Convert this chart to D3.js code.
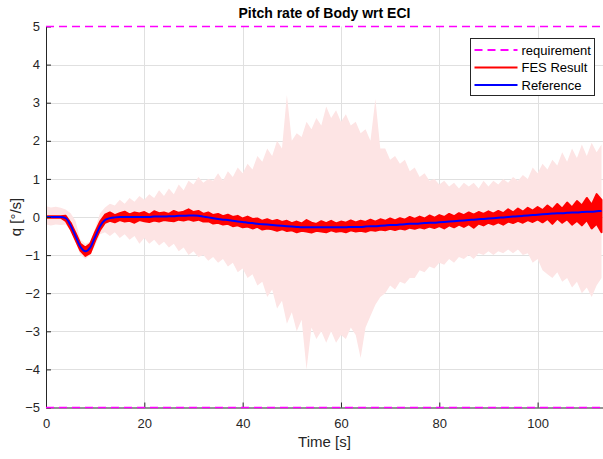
<!DOCTYPE html>
<html>
<head>
<meta charset="utf-8">
<script src="https://cdn.jsdelivr.net/npm/d3@7"></script>
<style>
  body { margin: 0; background: #fff; }
  svg { display: block; font-family: "Liberation Sans", Arial, sans-serif; }
</style>
</head>
<body>
<svg width="603" height="459"></svg>
<script>
// sample instants, 1 s apart, t = 0 .. 113
const dt = 1;

// reference trajectory (blue)
const refValues = [
  0, 0, 0, 0, -0.03, -0.22, -0.5, -0.78, -0.9, -0.8,
  -0.52, -0.24, -0.08, -0.03, -0.01, 0, 0, 0, 0, 0,
  0, 0, 0.01, 0.01, 0.01, 0.02, 0.02, 0.03, 0.03, 0.04,
  0.04, 0.03, 0.01, -0.01, -0.03, -0.05, -0.07, -0.08, -0.1, -0.12,
  -0.13, -0.15, -0.16, -0.18, -0.19, -0.2, -0.21, -0.22, -0.23, -0.24,
  -0.25, -0.26, -0.27, -0.27, -0.27, -0.27, -0.27, -0.27, -0.27, -0.27,
  -0.27, -0.27, -0.26, -0.26, -0.26, -0.25, -0.24, -0.24, -0.23, -0.22,
  -0.21, -0.21, -0.2, -0.19, -0.18, -0.18, -0.17, -0.16, -0.15, -0.15,
  -0.14, -0.13, -0.12, -0.11, -0.1, -0.09, -0.08, -0.07, -0.06, -0.05,
  -0.04, -0.03, -0.02, -0.01, 0, 0.01, 0.02, 0.03, 0.04, 0.05,
  0.06, 0.07, 0.08, 0.09, 0.1, 0.1, 0.11, 0.12, 0.12, 0.13,
  0.14, 0.14, 0.15, 0.16
];

// FES result band (red), upper and lower edges
const fesHi = [
  0.02, 0.02, 0.02, 0.02, 0.03, -0.15, -0.42, -0.7, -0.8, -0.7,
  -0.4, -0.12, 0.06, 0.12, 0.05, 0.1, 0.14, 0.07, 0.12, 0.09,
  0.13, 0.06, 0.15, 0.1, 0.12, 0.08, 0.16, 0.11, 0.14, 0.2,
  0.13, 0.16, 0.08, 0.12, 0.05, 0.08, 0.02, 0.06, 0.0, 0.03,
  -0.04, 0.01, -0.05, -0.04, -0.1, -0.06, -0.11, -0.08, -0.13, -0.1,
  -0.16, -0.12, -0.17, -0.08, -0.15, -0.18, -0.11, -0.16, -0.1, -0.17,
  -0.12, -0.15, -0.09, -0.14, -0.1, -0.13, -0.07, -0.12, -0.06, -0.1,
  -0.04, -0.09, -0.03, -0.07, 0.0, -0.05, 0.01, -0.04, 0.04, -0.02,
  0.05, 0.0, 0.08, 0.02, 0.1, 0.05, 0.12, 0.06, 0.13, 0.08,
  0.15, 0.09, 0.16, 0.1, 0.2, 0.12, 0.22, 0.14, 0.24, 0.17,
  0.26, 0.18, 0.3, 0.2, 0.34, 0.22, 0.38, 0.25, 0.42, 0.3,
  0.5, 0.32, 0.6, 0.45
];
const fesLo = [
  -0.02, -0.02, -0.02, -0.02, -0.1, -0.32, -0.6, -0.88, -1.02, -0.95,
  -0.62, -0.34, -0.15, -0.1, -0.14, -0.08, -0.12, -0.1, -0.15, -0.08,
  -0.11, -0.13, -0.09, -0.12, -0.08, -0.1, -0.11, -0.07, -0.09, -0.06,
  -0.1, -0.07, -0.12, -0.11, -0.17, -0.15, -0.2, -0.18, -0.24, -0.22,
  -0.27, -0.25, -0.3, -0.26, -0.33, -0.3, -0.32, -0.36, -0.32, -0.37,
  -0.35, -0.4, -0.36, -0.38, -0.41, -0.36, -0.38, -0.4, -0.35, -0.39,
  -0.37, -0.4, -0.35, -0.38, -0.36, -0.39, -0.34, -0.36, -0.33, -0.35,
  -0.31, -0.34, -0.3, -0.33, -0.28, -0.31, -0.27, -0.3, -0.25, -0.29,
  -0.24, -0.3, -0.22, -0.27, -0.2, -0.26, -0.19, -0.28, -0.17, -0.22,
  -0.15, -0.2, -0.14, -0.2, -0.12, -0.16, -0.1, -0.15, -0.08, -0.13,
  -0.06, -0.14, -0.05, -0.18, -0.04, -0.15, -0.06, -0.2, -0.1, -0.22,
  -0.08, -0.3, -0.18, -0.4
];

// dispersion envelope (light pink)
const dispHi = [
  0.28, 0.25, 0.27, 0.24, 0.2, 0.1, -0.1, -0.6, -0.7, -0.65,
  -0.3, 0.1, 0.25, 0.35, 0.3, 0.45, 0.35, 0.5, 0.4, 0.55,
  0.45, 0.6, 0.5, 0.7, 0.55, 0.75, 0.6, 0.85, 0.7, 0.95,
  0.85, 1.05, 0.9, 1.0, 0.95, 1.15, 0.95, 1.2, 1.05, 1.3,
  1.15, 1.4, 1.25, 1.6, 1.45, 1.8, 1.6, 2.0, 1.8, 3.2,
  2.0, 2.2, 2.1, 2.5, 2.3, 2.6, 2.4, 2.9, 2.6, 2.8,
  2.5, 2.7, 2.4, 2.5, 2.2, 2.3, 2.0, 3.1, 1.8, 1.8,
  1.5, 1.6, 1.4, 1.5, 1.2, 1.3, 1.05, 1.15, 0.95, 1.0,
  0.85, 0.95, 0.8, 0.9, 0.75, 0.9, 0.8, 0.9, 0.75, 0.95,
  0.8, 0.95, 0.85, 1.0, 0.9, 1.05, 0.95, 1.1, 1.0, 1.3,
  1.15, 1.4, 1.25, 1.5, 1.35, 1.7, 1.45, 1.8, 1.55, 1.9,
  1.6, 1.95, 1.7, 1.9
];
const dispLo = [
  -0.2, -0.22, -0.2, -0.21, -0.2, -0.35, -0.65, -1.0, -1.1, -1.0,
  -0.75, -0.45, -0.4, -0.5, -0.4, -0.55, -0.45, -0.6, -0.5, -0.7,
  -0.55, -0.7, -0.6, -0.75, -0.65, -0.8, -0.7, -0.9, -0.8, -1.0,
  -0.9, -1.05, -1.0, -1.15, -1.05, -1.2, -1.1, -1.3, -1.2, -1.45,
  -1.35, -1.6, -1.5, -1.8, -1.7, -2.1, -1.9, -2.4, -2.2, -2.8,
  -2.5, -3.0, -2.7, -4.0, -2.9, -3.2, -3.0, -3.3, -3.0, -3.3,
  -3.1, -3.2, -2.9, -3.1, -3.7, -2.9, -2.6, -2.3, -2.1, -2.0,
  -1.8, -1.9, -1.7, -1.75, -1.6, -1.6, -1.4, -1.45, -1.3, -1.35,
  -1.2, -1.25, -1.1, -1.2, -1.05, -1.1, -1.0, -1.1, -0.95, -1.0,
  -0.9, -1.0, -0.9, -0.95, -0.85, -0.95, -0.85, -1.0, -0.95, -1.2,
  -1.1, -1.4, -1.5, -1.6, -1.45, -1.7, -1.6, -1.85, -1.7, -2.0,
  -1.85, -2.1, -1.8, -1.6
];

const requirement = [5, -5];
const xTicks = [0, 20, 40, 60, 80, 100];
const yTicks = [-5, -4, -3, -2, -1, 0, 1, 2, 3, 4, 5];
const legendItems = ['requirement', 'FES Result', 'Reference'];

const svg = d3.select('svg');
const plotL = 46, plotR = 603, plotT = 26.5, plotB = 407.5;

const x = d3.scaleLinear().domain([0, 113.3]).range([plotL, plotR]);
const y = d3.scaleLinear().domain([-5, 5]).range([plotB, plotT]);

const rows = refValues.map((r, i) => ({
  t: i * dt, ref: r, hi: fesHi[i], lo: fesLo[i], dhi: dispHi[i], dlo: dispLo[i]
}));

svg.append('defs').append('clipPath').attr('id', 'clip')
  .append('rect')
  .attr('x', plotL).attr('y', plotT - 2)
  .attr('width', plotR - plotL).attr('height', plotB - plotT + 4);

// grid
const grid = svg.append('g').attr('stroke', '#e0e0e0').attr('stroke-width', 1);
grid.selectAll('.gx').data(xTicks.slice(1)).enter().append('line')
  .attr('x1', d => Math.round(x(d)) + 0.5).attr('x2', d => Math.round(x(d)) + 0.5)
  .attr('y1', plotT).attr('y2', plotB);
grid.selectAll('.gy').data(yTicks.slice(1, -1)).enter().append('line')
  .attr('x1', plotL).attr('x2', plotR)
  .attr('y1', d => Math.round(y(d)) + 0.5).attr('y2', d => Math.round(y(d)) + 0.5);

const plot = svg.append('g').attr('clip-path', 'url(#clip)');

plot.append('path')
  .datum(rows)
  .attr('fill', '#fde4e4')
  .attr('d', d3.area().x(d => x(d.t)).y0(d => y(d.dlo)).y1(d => y(d.dhi)));

plot.append('path')
  .datum(rows)
  .attr('fill', '#ff0000')
  .attr('stroke', '#ff0000')
  .attr('stroke-width', 2)
  .attr('stroke-linejoin', 'round')
  .attr('d', d3.area().x(d => x(d.t)).y0(d => y(d.lo)).y1(d => y(d.hi)));

plot.append('path')
  .datum(rows)
  .attr('fill', 'none')
  .attr('stroke', '#0000ff')
  .attr('stroke-width', 2)
  .attr('d', d3.line().curve(d3.curveMonotoneX).x(d => x(d.t)).y(d => y(d.ref)));

// axes
const axisColor = '#262626';
const xAxis = svg.append('g')
  .attr('transform', `translate(0,${plotB})`)
  .call(d3.axisBottom(x).tickValues(xTicks).tickSizeInner(-5).tickSizeOuter(0).tickPadding(11));
const yAxis = svg.append('g')
  .attr('transform', `translate(${plotL},0)`)
  .call(d3.axisLeft(y).tickValues(yTicks).tickSizeInner(-5).tickSizeOuter(0).tickPadding(6));
[xAxis, yAxis].forEach(a => {
  a.select('.domain').attr('stroke', axisColor);
  a.selectAll('.tick line').attr('stroke', axisColor);
  a.selectAll('.tick text').attr('fill', axisColor)
    .style('font-size', '13px').style('font-family', '"Liberation Sans", Arial, sans-serif');
});

// requirement limits
svg.selectAll('.req').data(requirement).enter().append('line')
  .attr('x1', plotL).attr('x2', plotR)
  .attr('y1', d => y(d)).attr('y2', d => y(d))
  .attr('stroke', '#ff00ff').attr('stroke-width', 1.5)
  .attr('stroke-dasharray', '8,5');

// labels
svg.append('text')
  .attr('x', (plotL + plotR) / 2).attr('y', 18)
  .attr('text-anchor', 'middle')
  .style('font-size', '14px').style('font-weight', 'bold')
  .text('Pitch rate of Body wrt ECI');
svg.append('text')
  .attr('x', (plotL + plotR) / 2).attr('y', 447)
  .attr('text-anchor', 'middle').attr('fill', axisColor)
  .style('font-size', '15px')
  .text('Time [s]');
svg.append('text')
  .attr('transform', `translate(21,${y(0)}) rotate(-90)`)
  .attr('text-anchor', 'middle').attr('fill', axisColor)
  .style('font-size', '15px')
  .text('q [°/s]');

// legend
const lg = svg.append('g').attr('transform', 'translate(470.5,38.5)');
lg.append('rect')
  .attr('width', 124).attr('height', 57)
  .attr('fill', '#fff').attr('stroke', '#262626').attr('stroke-width', 1);
const legendStyles = [
  { color: '#ff00ff', dash: '8,5' },
  { color: '#ff0000', dash: null },
  { color: '#0000ff', dash: null }
];
const items = lg.selectAll('.item').data(legendItems).enter().append('g')
  .attr('transform', (d, i) => `translate(0,${11.5 + i * 17.5})`);
items.append('line')
  .attr('x1', 4).attr('x2', 47)
  .attr('stroke', (d, i) => legendStyles[i].color)
  .attr('stroke-width', 2)
  .attr('stroke-dasharray', (d, i) => legendStyles[i].dash);
items.append('text')
  .attr('x', 51).attr('dy', '0.35em')
  .attr('fill', '#000')
  .style('font-size', '13px')
  .text(d => d);
</script>
</body>
</html>
